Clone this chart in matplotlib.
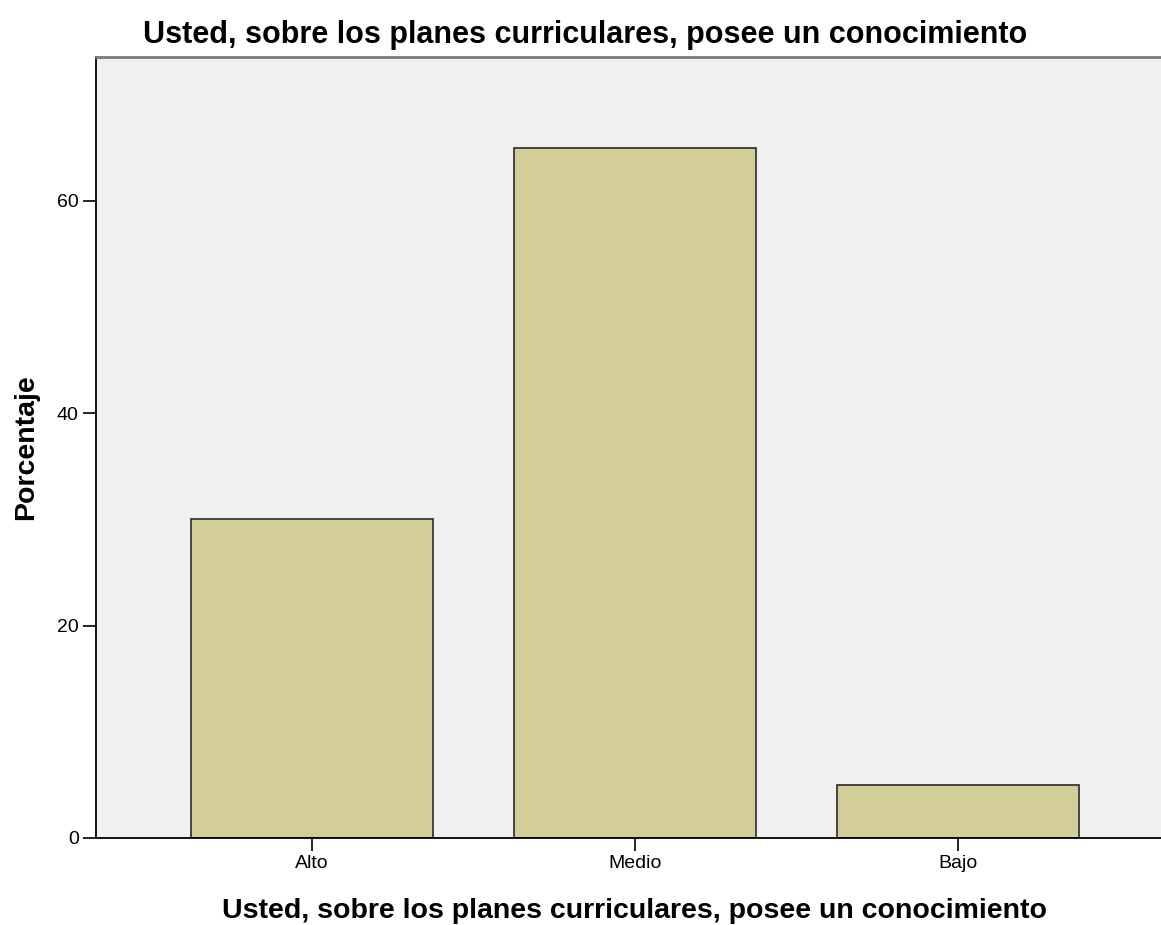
import numpy as np
import matplotlib
matplotlib.use("Agg")
import matplotlib.pyplot as plt

plt.rcParams['font.family'] = ['Liberation Sans', 'DejaVu Sans']

categorias = ["Alto", "Medio", "Bajo"]
porcentaje = [30.0, 65.0, 5.0]
yticks = [0, 20, 40, 60]
titulo = "Usted, sobre los planes curriculares, posee un conocimiento"

fig = plt.figure(figsize=(11.61, 9.25), dpi=100)
ax = fig.add_axes([96/1161, 87/925, 1065/1161, 781/925])
ax.set_facecolor("#F0F0F0")

x = np.arange(len(categorias))
ax.bar(x, porcentaje, width=0.752, color="#D3CE97", edgecolor="#2b2b2b", linewidth=1.2, zorder=2)

ax.set_xlim(-0.6687, 2.6285)
ax.set_ylim(0, 73.55)
ax.set_xticks(x)
ax.set_xticklabels(categorias)
ax.set_yticks(yticks)
ax.tick_params(axis='both', direction='out', length=9.5, width=1.2, labelsize=14, colors='black', pad=3)

ax.spines['right'].set_visible(False)
ax.spines['top'].set_color('#7a7a7a')
ax.spines['top'].set_linewidth(2)
ax.spines['left'].set_linewidth(1.3)
ax.spines['bottom'].set_linewidth(1.3)

fig.text(585/1161, 1 - 43/925, titulo, ha='center', va='baseline', fontsize=22, fontweight='bold')
fig.text(635/1161, 1 - 918/925, titulo, ha='center', va='baseline', fontsize=20.5, fontweight='bold')
fig.text(26/1161, 1 - 447/925, "Porcentaje", ha='center', va='center', rotation=90, fontsize=20.5, fontweight='bold')

fig.savefig("out.png", dpi=100)
